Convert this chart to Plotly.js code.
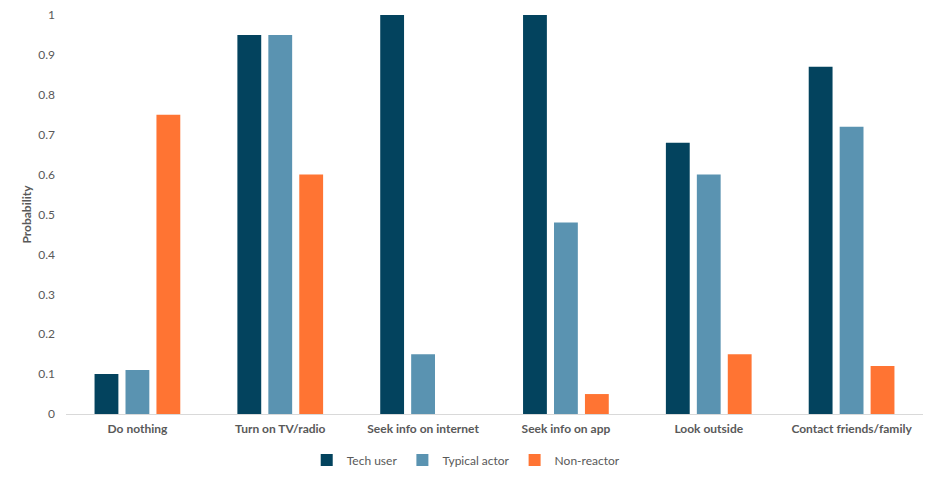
<!DOCTYPE html>
<html>
<head>
<meta charset="utf-8">
<script src="https://cdn.plot.ly/plotly-3.0.1.min.js"></script>
<style>
  body { margin: 0; background: #fff; }
  #chart { width: 936px; height: 482px; }
</style>
</head>
<body>
<div id="chart"></div>
<script>
const categories = ['Do nothing', 'Turn on TV/radio', 'Seek info on internet', 'Seek info on app', 'Look outside', 'Contact friends/family'];
const techUser = [0.10, 0.95, 1.00, 1.00, 0.68, 0.87];
const typicalActor = [0.11, 0.95, 0.15, 0.48, 0.60, 0.72];
const nonReactor = [0.75, 0.60, 0, 0.05, 0.15, 0.12];
const yTicks = [0, 0.1, 0.2, 0.3, 0.4, 0.5, 0.6, 0.7, 0.8, 0.9, 1];

function main() {
    const font = 'Lato, "Open Sans", sans-serif';

    var data = [
        { x: categories, y: techUser, name: 'Tech user', type: 'bar', marker: { color: '#03435e' } },
        { x: categories, y: typicalActor, name: 'Typical actor', type: 'bar', marker: { color: '#5a93b1' } },
        { x: categories, y: nonReactor, name: 'Non-reactor', type: 'bar', marker: { color: '#ff7433' } }
    ];

    var layout = {
        width: 936,
        height: 482,
        margin: { l: 66, r: 13, t: 15, b: 68, autoexpand: false },
        barmode: 'group',
        bargap: 0.35,
        bargroupgap: 0.23,
        font: { family: font, color: '#595959', size: 12 },
        paper_bgcolor: '#fff',
        plot_bgcolor: '#fff',
        xaxis: {
            showline: true,
            linecolor: '#d9d9d9',
            linewidth: 1,
            tickfont: { family: font, size: 12, color: '#595959', weight: 'bold' },
            ticks: '',
            ticklabelstandoff: 4
        },
        yaxis: {
            range: [0, 1],
            tickvals: yTicks,
            ticktext: yTicks.map(v => String(v)),
            showgrid: false,
            zeroline: false,
            ticks: '',
            ticklabelstandoff: 10,
            tickfont: { family: font, size: 12, color: '#595959' },
            title: { text: 'Probability', font: { family: font, size: 12, color: '#595959', weight: 'bold' }, standoff: 4 }
        },
        legend: {
            orientation: 'h',
            x: 0.467,
            xanchor: 'center',
            y: -0.115,
            yanchor: 'middle',
            font: { family: font, size: 12, color: '#595959' },
            itemwidth: 30,
            traceorder: 'normal'
        },
        showlegend: true
    };

    Plotly.newPlot('chart', data, layout, { displayModeBar: false });
}
main();
</script>
</body>
</html>
